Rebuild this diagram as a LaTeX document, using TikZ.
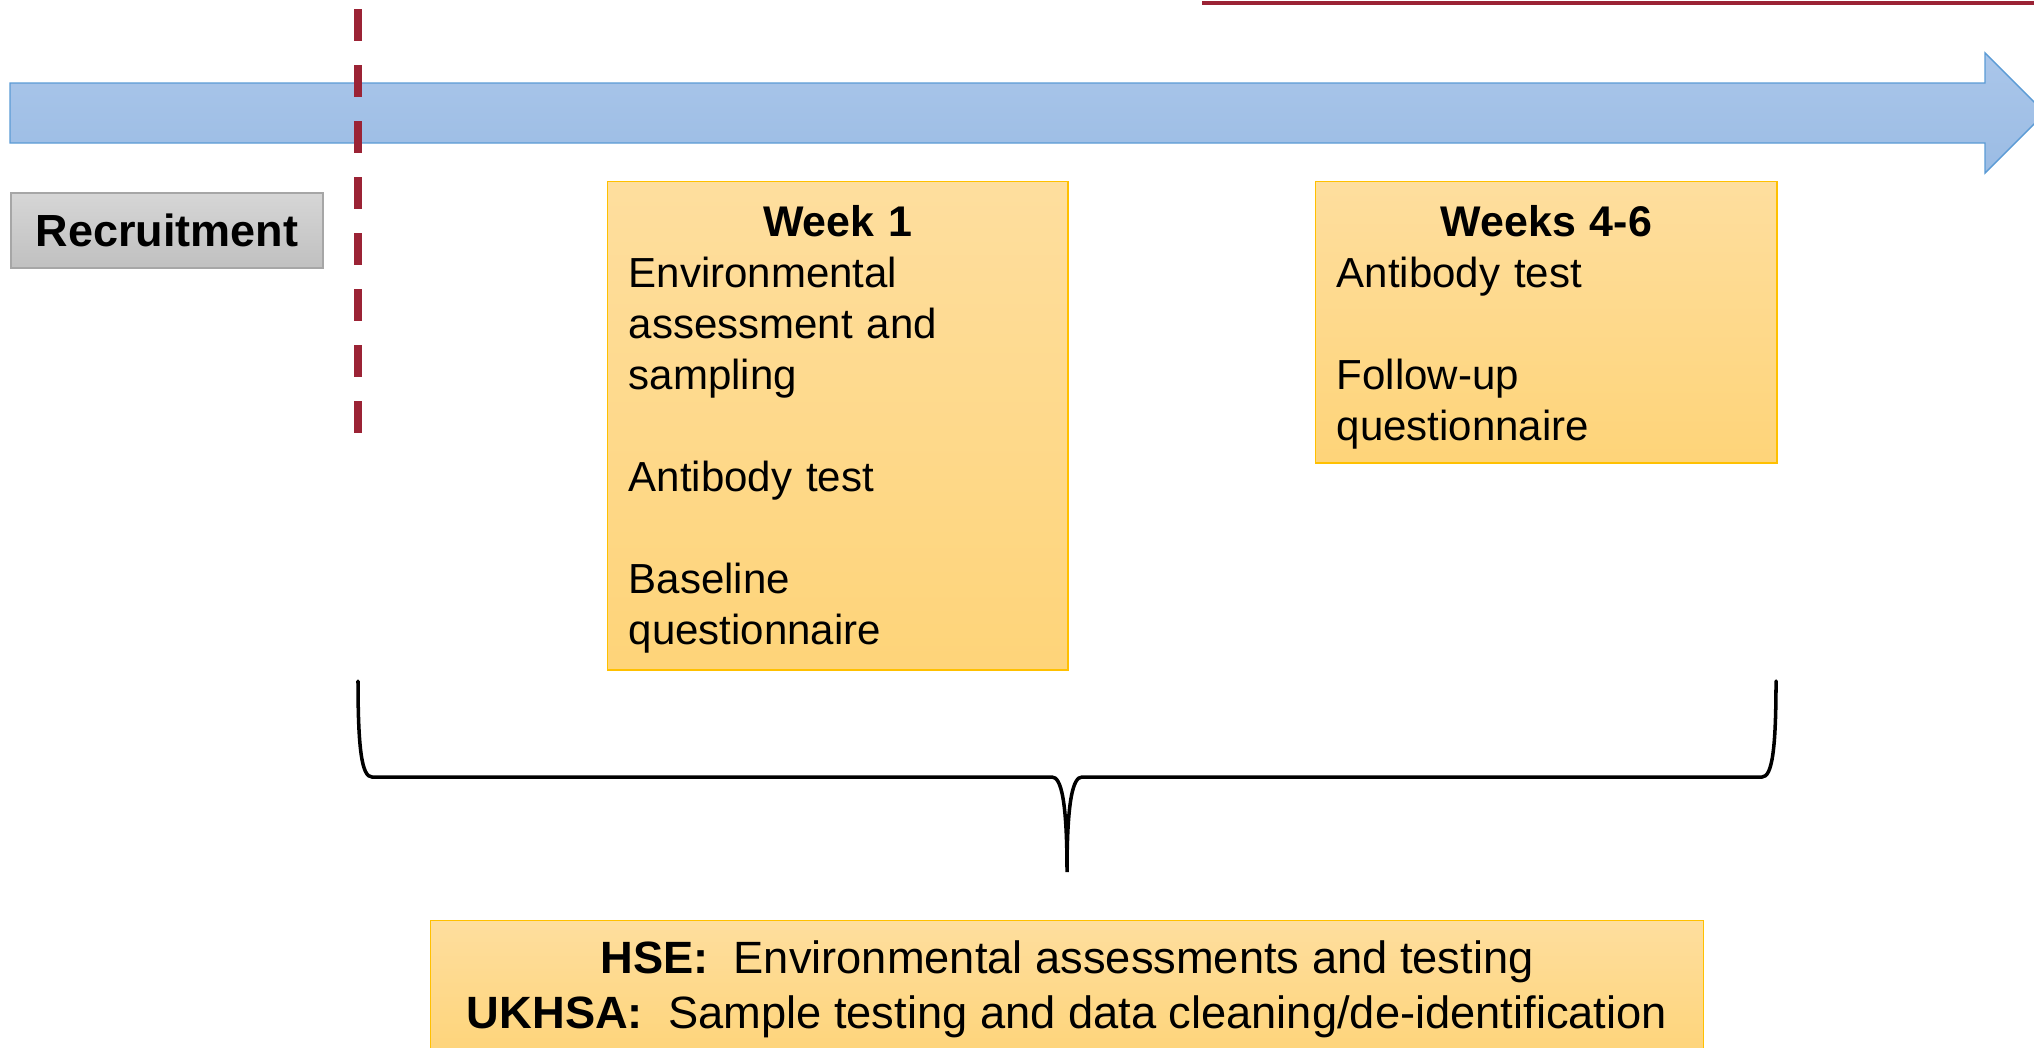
\documentclass[tikz,border=0pt]{standalone}
\usepackage{fontspec}
\setmainfont{Liberation Sans}
\usetikzlibrary{positioning}

\definecolor{darkred}{HTML}{9B2335}
\definecolor{arrowtop}{HTML}{AAC6EA}
\definecolor{arrowbot}{HTML}{9BBCE4}
\definecolor{arrowline}{HTML}{5B9BD5}
\definecolor{goldtop}{HTML}{FEDE9E}
\definecolor{goldbot}{HTML}{FED479}
\definecolor{goldline}{HTML}{FFC000}
\definecolor{greytop}{HTML}{D6D6D6}
\definecolor{greybot}{HTML}{C0C0C0}
\definecolor{greyline}{HTML}{A6A6A6}

\newcommand{\weektitle}[1]{\makebox[\hsize]{\fontsize{12.2}{14.5}\selectfont\bfseries #1}}

\begin{document}
\begin{tikzpicture}[x=0.01cm, y=-0.01cm,
	goldbox/.style={draw=goldline, line width=0.4pt, top color=goldtop, bottom color=goldbot, inner sep=0pt},
	boxtext/.style={inner sep=0pt, align=left, font=\fontsize{11.95}{14.5}\selectfont},
	brace/.style={line width=1pt, line cap=round}]
	\useasboundingbox (0,0) rectangle (2034,1047);
	\clip (0,0) rectangle (2034,1047);
	\coordinate (bar start) at (1202,3);
	\coordinate (bar end) at (2034,3);
	\coordinate (cut top) at (358,9);
	\coordinate (cut bot) at (358,433);
	\coordinate (brace l) at (358,681);
	\coordinate (brace r) at (1776,681);
	\coordinate (brace tip) at (1067,872);
	\draw[darkred, line width=0.045cm] (bar start) -- (bar end);
	\draw[draw=arrowline, line width=0.4pt, top color=arrowtop, bottom color=arrowbot] (10,83) -- (1985,83) -- (1985,53) -- (2045,113) -- (1985,173) -- (1985,143) -- (10,143) -- cycle;
	\draw[darkred, line width=0.08cm, dash pattern=on 0.32cm off 0.24cm] (cut top) -- (cut bot);
	\node[draw=greyline, line width=0.6pt, top color=greytop, bottom color=greybot, minimum width=3.12cm, minimum height=0.75cm, inner sep=0pt, anchor=north west, font=\fontsize{12.8}{15}\selectfont\bfseries] (recruit) at (10,192) {Recruitment};
	\node[goldbox, anchor=north west, minimum width=4.6cm, minimum height=4.88cm] (week1) at (607,181) {};
	\node[boxtext, text width=4.18cm, below right=0.24cm and 0.21cm of week1.north west] (week1 txt) {\weektitle{Week 1}\\ Environmental\\ assessment and\\ sampling\\[14.5pt] Antibody test\\[14.5pt] Baseline\\ questionnaire};
	\node[goldbox, anchor=north west, minimum width=4.61cm, minimum height=2.81cm] (weeks46) at (1315,181) {};
	\node[boxtext, text width=4.19cm, below right=0.24cm and 0.21cm of weeks46.north west] (weeks46 txt) {\weektitle{Weeks 4-6}\\ Antibody test\\[14.5pt] Follow-up\\ questionnaire};
	\draw[brace] (brace l) .. controls (358,750) and (362,777) .. (372,777) -- (1052,777) .. controls (1061,777) and (1067,800) .. (brace tip) .. controls (1067,800) and (1073,777) .. (1082,777) -- (1762,777) .. controls (1772,777) and (1776,750) .. (brace r);
	\node[goldbox, anchor=north, minimum width=12.72cm, inner ysep=0.2cm, align=center, font=\fontsize{12.87}{15.65}\selectfont] (roles) at (1067,920) {\textbf{HSE:}\ \ Environmental assessments and testing\\ \textbf{UKHSA:}\ \ Sample testing and data cleaning/de-identification};
\end{tikzpicture}
\end{document}
